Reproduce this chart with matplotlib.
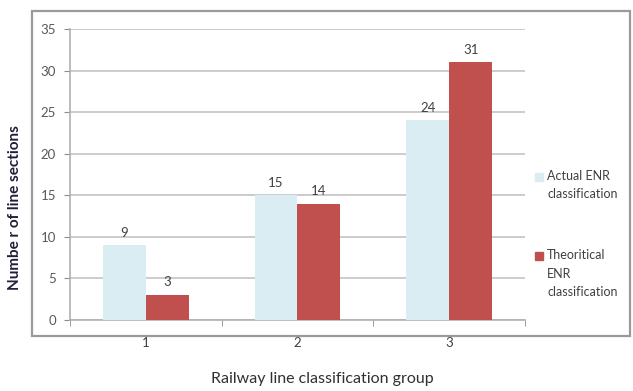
import matplotlib
matplotlib.use("Agg")
import matplotlib.pyplot as plt
import numpy as np
from matplotlib.patches import Rectangle

groups = ["1", "2", "3"]
actual = [9, 15, 24]
theoretical = [3, 14, 31]
series_labels = ["Actual ENR\nclassification", "Theoritical\nENR\nclassification"]
y_ticks = [0, 5, 10, 15, 20, 25, 30, 35]

plt.rcParams["font.family"] = ["Lato", "DejaVu Sans"]

fig = plt.figure(figsize=(6.33, 3.91), dpi=100)
W, H = 633, 391

# outer chart border
fig.patches.append(Rectangle((32 / W, 1 - 336 / H), 598 / W, 325 / H,
                             transform=fig.transFigure, fill=False,
                             edgecolor="#9a9a9a", linewidth=1.6))

ax = fig.add_axes([70 / W, 1 - 320 / H, 455 / W, 291 / H])

x = np.arange(len(groups))
bw = 0.283
blue = "#daedf3"
red = "#c0504d"
b1 = ax.bar(x - bw / 2, actual, bw, color=blue, zorder=3)
b2 = ax.bar(x + bw / 2, theoretical, bw, color=red, zorder=3)

for bars, vals in ((b1, actual), (b2, theoretical)):
    for rect, v in zip(bars, vals):
        ax.text(rect.get_x() + rect.get_width() / 2, v + 0.8, str(v),
                ha="center", va="bottom", fontsize=9.5, color="#404040")

ax.set_xlim(-0.5, 2.5)
ax.set_ylim(0, 35)
ax.set_yticks(y_ticks)
ax.set_xticks(x)
ax.set_xticklabels(groups)
ax.set_xticks([-0.5, 0.5, 1.5, 2.5], minor=True)
ax.tick_params(axis="x", which="major", length=0, pad=12, labelsize=9.5, colors="#404040")
ax.tick_params(axis="x", which="minor", length=4, color="#8c8c8c")
ax.tick_params(axis="y", length=4, color="#8c8c8c", labelsize=9.5, labelcolor="#595959", pad=6)

ax.grid(axis="y", color="#cccccc", linewidth=1.4, zorder=0)
for s in ("top", "right"):
    ax.spines[s].set_visible(False)
for s in ("left", "bottom"):
    ax.spines[s].set_color("#b0b0b0")
    ax.spines[s].set_linewidth(1.2)

# legend: small square + wrapped label, square aligned with first line
legend_rows = [(blue, series_labels[0], 177), (red, series_labels[1], 256)]
for color, label, ypix in legend_rows:
    fig.patches.append(Rectangle((535 / W, 1 - (ypix + 4) / H), 8 / W, 8 / H,
                                 transform=fig.transFigure, color=color))
    fig.text(547 / W, 1 - (ypix - 7) / H, label, ha="left", va="top",
             fontsize=9, color="#404040", linespacing=1.65)

fig.text(15 / W, 1 - 208 / H, "Numbe r of line sections", rotation=90,
         ha="center", va="center", fontsize=11, fontweight="bold", color="#1f1f3a")
fig.text(322 / W, 1 - 379 / H, "Railway line classification group",
         ha="center", va="center", fontsize=11.5, color="#303030")

fig.savefig("out.png", dpi=100)
